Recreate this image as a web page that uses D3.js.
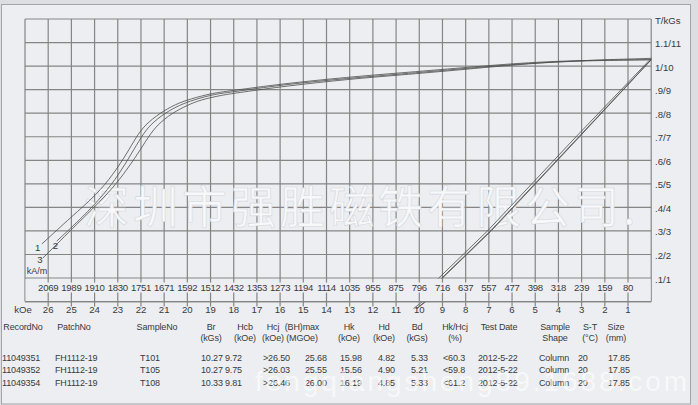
<!DOCTYPE html>
<html>
<head>
<meta charset="utf-8">
<script src="https://cdn.jsdelivr.net/npm/d3@7/dist/d3.min.js"></script>
<style>
  body { margin: 0; background: #dcdee2; }
  svg { display: block; font-family: "Liberation Sans", Arial, sans-serif; }
</style>
</head>
<body>
<script>
// H in kOe, J / B in T
const kOeTicks = [26, 25, 24, 23, 22, 21, 20, 19, 18, 17, 16, 15, 14, 13, 12, 11, 10, 9, 8, 7, 6, 5, 4, 3, 2, 1];
const kAmLabels = ["2069", "1989", "1910", "1830", "1751", "1671", "1592", "1512", "1432", "1353", "1273", "1194", "1114",
  "1035", "955", "875", "796", "716", "637", "557", "477", "398", "318", "239", "159", "80"];
const tValues = [1.1, 1.0, 0.9, 0.8, 0.7, 0.6, 0.5, 0.4, 0.3, 0.2, 0.1];
const tLabels = ["1.1/11", "1/10", ".9/9", ".8/8", ".7/7", ".6/6", ".5/5", ".4/4", ".3/3", ".2/2", ".1/1"];

// intrinsic (J-H) curves
const jCurve1 = [[26.27, 0.245], [25.0, 0.360], [23.9, 0.455], [23.2, 0.540], [22.6, 0.630], [22.2, 0.700], [21.83, 0.750],
  [21.18, 0.801], [20.49, 0.839], [19.89, 0.860], [18.90, 0.886], [18.03, 0.896], [16.0, 0.924], [12.99, 0.954],
  [10.83, 0.971], [8.24, 0.992], [4.36, 1.024], [0, 1.027]];
const jCurve2 = [[25.63, 0.257], [24.5, 0.360], [23.6, 0.455], [22.95, 0.540], [22.4, 0.630], [21.98, 0.700], [21.62, 0.750],
  [20.97, 0.801], [20.32, 0.835], [19.76, 0.856], [18.80, 0.882], [18.03, 0.890], [16.0, 0.920], [12.99, 0.949],
  [10.83, 0.966], [8.24, 0.988], [4.36, 1.021], [0, 1.027]];
const jCurve3 = [[26.23, 0.185], [24.75, 0.330], [23.45, 0.455], [22.75, 0.540], [22.12, 0.630], [21.68, 0.700], [21.30, 0.750],
  [20.66, 0.801], [19.97, 0.835], [19.46, 0.856], [18.51, 0.877], [17.73, 0.888], [15.79, 0.915], [12.99, 0.945],
  [10.83, 0.962], [8.24, 0.984], [4.36, 1.020], [0, 1.033]];

// normal (B-H) lines
const bLine1 = [[0, 1.027], [3.09, 0.70], [4.99, 0.50], [6.90, 0.30], [7.95, 0.20], [9.0, 0.10], [9.72, 0], [10.1, -0.03]];
const bLine2 = [[0, 1.027], [3.12, 0.70], [5.02, 0.50], [6.93, 0.30], [7.98, 0.20], [9.03, 0.10], [9.75, 0], [10.13, -0.03]];
const bLine3 = [[0, 1.033], [3.24, 0.70], [5.15, 0.50], [7.06, 0.30], [8.11, 0.20], [9.16, 0.10], [9.87, 0], [10.25, -0.03]];

const headRow1 = ["RecordNo", "PatchNo", "SampleNo", "Br", "Hcb", "Hcj", "(BH)max", "Hk", "Hd", "Bd", "Hk/Hcj", "Test Date", "Sample", "S-T", "Size"];
const headRow2 = ["", "", "", "(kGs)", "(kOe)", "(kOe)", "(MGOe)", "(kOe)", "(kOe)", "(kGs)", "(%)", "", "Shape", "(°C)", "(mm)"];
const rows = [
  ["11049351", "FH1112-19", "T101", "10.27", "9.72", ">26.50", "25.68", "15.98", "4.82", "5.33", "<60.3", "2012-5-22", "Column", "20", "17.85"],
  ["11049352", "FH1112-19", "T105", "10.27", "9.75", ">26.03", "25.55", "15.56", "4.90", "5.21", "<59.8", "2012-5-22", "Column", "20", "17.85"],
  ["11049354", "FH1112-19", "T108", "10.33", "9.81", ">26.46", "26.00", "16.19", "4.85", "5.33", "<61.2", "2012-5-22", "Column", "20", "17.85"]
];

let width = 698, height = 405;
let bg = "#eceef1";
let gridColor = "#858585";
let curveColor = "#4d4d4d";
let textColor = "#3a3a3a";

let svg = d3.select("body").append("svg")
  .attr("width", width)
  .attr("height", height);

// frame
svg.append("rect")
  .attr("x", 1.5).attr("y", 4.5)
  .attr("width", 689).attr("height", 399.5)
  .attr("fill", bg)
  .attr("stroke", "#a3a5a8");

let x = d3.scaleLinear().domain([27, 0]).range([25, 651.2]);
let y = d3.scaleLinear().domain([0, 1.2]).range([301.6, 19]);

let grid = svg.append("g").attr("stroke", gridColor).attr("stroke-width", 1.2);
grid.selectAll(".v")
  .data(d3.range(0, 28))
  .join("line")
  .attr("x1", (d) => x(d)).attr("x2", (d) => x(d))
  .attr("y1", y(1.2)).attr("y2", y(0));
grid.selectAll(".h")
  .data(d3.range(0, 13).map((d) => d / 10))
  .join("line")
  .attr("x1", x(27)).attr("x2", x(0))
  .attr("y1", (d) => y(d)).attr("y2", (d) => y(d));

// watermark
svg.append("text")
  .attr("x", 84).attr("y", 224)
  .attr("font-family", "'Noto Sans CJK SC', sans-serif")
  .attr("font-size", 45)
  .attr("letter-spacing", 4)
  .attr("fill", "#f7f8fa")
  .attr("stroke", "#d5d7db")
  .attr("stroke-width", 0.6)
  .text("深圳市强胜磁铁有限公司.");

let line = d3.line()
  .x((d) => x(d[0]))
  .y((d) => y(d[1]))
  .curve(d3.curveBasis);

let curves = svg.append("g")
  .attr("fill", "none")
  .attr("stroke", curveColor)
  .attr("stroke-width", 0.8);
[jCurve1, jCurve2, jCurve3].forEach((c) => {
  curves.append("path").attr("d", line(c));
});
let straight = d3.line().x((d) => x(d[0])).y((d) => y(d[1]));
[bLine1, bLine2, bLine3].forEach((c) => {
  curves.append("path").attr("d", straight(c));
});

// kA/m band below the 0.1 line
svg.append("rect")
  .attr("x", x(27) + 0.6).attr("y", y(0.1) + 0.6)
  .attr("width", x(0) - x(27) - 1.2).attr("height", y(0) - y(0.1) - 1.2)
  .attr("fill", bg);

let ticks = svg.append("g").attr("stroke", gridColor).attr("stroke-width", 1.2);
ticks.selectAll(".t1")
  .data(kOeTicks)
  .join("line")
  .attr("x1", (d) => x(d)).attr("x2", (d) => x(d))
  .attr("y1", y(0.1)).attr("y2", y(0.1) + 4.5);
ticks.selectAll(".t2")
  .data(kOeTicks)
  .join("line")
  .attr("x1", (d) => x(d)).attr("x2", (d) => x(d))
  .attr("y1", y(0) - 9).attr("y2", y(0) + 5);
ticks.append("line")
  .attr("x1", x(27)).attr("x2", x(0))
  .attr("y1", y(0)).attr("y2", y(0));

// axis labels
let labels = svg.append("g").attr("fill", textColor).attr("font-size", 9.6);
labels.selectAll(".kam")
  .data(kAmLabels)
  .join("text")
  .attr("x", (d, i) => x(kOeTicks[i]))
  .attr("y", 291)
  .attr("text-anchor", "middle")
  .attr("letter-spacing", -0.3)
  .text((d) => d);
labels.selectAll(".koe")
  .data(kOeTicks)
  .join("text")
  .attr("x", (d) => x(d))
  .attr("y", 313)
  .attr("text-anchor", "middle")
  .text((d) => d);
labels.append("text").attr("x", 23).attr("y", 312.5).attr("text-anchor", "middle").text("kOe");
labels.selectAll(".t")
  .data(tLabels)
  .join("text")
  .attr("x", 655)
  .attr("y", (d, i) => y(tValues[i]) + 4.5)
  .text((d) => d);
labels.append("text").attr("x", 655).attr("y", 24).text("T/kGs");

// curve numbers
labels.append("text").attr("x", 37.7).attr("y", 250.5).attr("text-anchor", "middle").text("1");
labels.append("text").attr("x", 55.5).attr("y", 248.5).attr("text-anchor", "middle").text("2");
labels.append("text").attr("x", 40).attr("y", 263).attr("text-anchor", "middle").text("3");
labels.append("text").attr("x", 37).attr("y", 273.5).attr("text-anchor", "middle").attr("font-size", 9).text("kA/m");

// table
let headX = [23, 74, 157, 211, 245, 273, 302, 349, 384, 417, 455, 499, 555, 590, 616];
let colX = [2, 55, 140, 201, 225, 263, 305, 340, 378, 411, 443, 478, 539, 578, 608];
let rowY = [360.5, 373, 385.5];
let table = svg.append("g").attr("fill", textColor).attr("font-size", 9).attr("letter-spacing", -0.15);
table.selectAll(".h1")
  .data(headRow1)
  .join("text")
  .attr("x", (d, i) => headX[i])
  .attr("y", 329.5)
  .attr("text-anchor", "middle")
  .text((d) => d);
table.selectAll(".h2")
  .data(headRow2)
  .join("text")
  .attr("x", (d, i) => headX[i])
  .attr("y", 340.5)
  .attr("text-anchor", "middle")
  .text((d) => d);
rows.forEach((r, ri) => {
  table.selectAll(".r" + ri)
    .data(r)
    .join("text")
    .attr("x", (d, i) => colX[i])
    .attr("y", rowY[ri])
    .text((d) => d);
});

// site watermark over the last row
svg.append("text")
  .attr("x", 255).attr("y", 391)
  .attr("font-size", 28)
  .attr("textLength", 432)
  .attr("lengthAdjust", "spacing")
  .attr("fill", "#ffffff")
  .attr("fill-opacity", 0.6)
  .text("fengqiangsheng89.1688.com");
</script>
</body>
</html>
